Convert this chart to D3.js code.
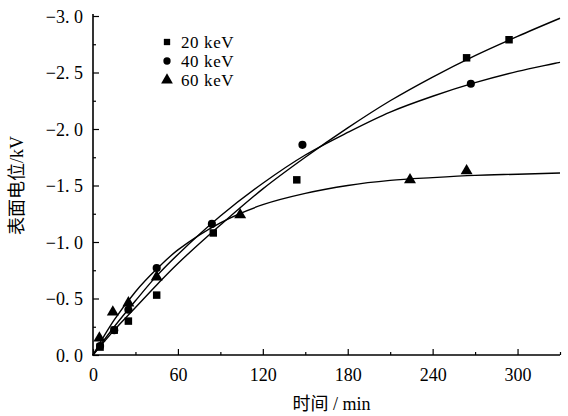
<!DOCTYPE html>
<html>
<head>
<meta charset="utf-8">
<script src="https://cdn.jsdelivr.net/npm/d3@7"></script>
<style>
  body { margin: 0; background: #fff; }
  svg { display: block; }
  text { font-family: "Liberation Serif", "DejaVu Serif", "Noto Sans CJK SC", serif; fill: #000; }
</style>
</head>
<body>
<svg id="chart" width="568" height="416"></svg>
<script>
// ── measured points (time in min, surface potential in kV) ────────────────
const t20 = [5, 15, 25, 45, 85, 144, 264, 294];
const v20 = [-0.07, -0.22, -0.30, -0.53, -1.08, -1.55, -2.63, -2.79];
const t40 = [5, 15, 25, 45, 84, 148, 267];
const v40 = [-0.08, -0.22, -0.40, -0.77, -1.16, -1.86, -2.40];
const t60 = [4.5, 14, 25, 45, 104, 224, 264];
const v60 = [-0.15, -0.38, -0.46, -0.69, -1.24, -1.55, -1.63];

// ── fitted curves ─────────────────────────────────────────────────────────
const fitT   = [0, 15, 30, 45, 60, 90, 120, 150, 180, 210, 240, 270, 300, 330];
const fit20  = [0, -0.22, -0.42, -0.62, -0.81, -1.15, -1.47, -1.75, -2.01, -2.25, -2.46, -2.65, -2.82, -2.98];
const fit40  = [0, -0.25, -0.48, -0.70, -0.89, -1.23, -1.52, -1.77, -1.97, -2.15, -2.29, -2.41, -2.51, -2.59];
const fit60  = [0, -0.31, -0.56, -0.76, -0.93, -1.17, -1.33, -1.43, -1.50, -1.545, -1.57, -1.59, -1.60, -1.61];

const xTicks = [0, 60, 120, 180, 240, 300];
const xMinor = [30, 90, 150, 210, 270, 330];
const yTicks = [0, -0.5, -1.0, -1.5, -2.0, -2.5, -3.0];
const yMinor = [-0.25, -0.75, -1.25, -1.75, -2.25, -2.75];
const legendLabels = ['20 keV', '40 keV', '60 keV'];

const svg = d3.select('#chart');
const m = { l: 93, r: 8, t: 16, b: 61 };
const W = 568, H = 416;

const x = d3.scaleLinear().domain([0, 330]).range([m.l, 560]);
const y = d3.scaleLinear().domain([0, -3.0]).range([H - m.b, m.t]);

// journal style: "−2. 5" with a gap after the point
const fmt = v => (v === 0 ? '0.\u00a00' : '\u2212' + Math.abs(v).toFixed(1).replace('.', '.\u00a0'));

// axes, ticks pointing inward
const gx = svg.append('g').attr('transform', `translate(0,${y(0)})`)
  .call(d3.axisBottom(x).tickValues(xTicks).tickSize(-6).tickPadding(13).tickFormat(d3.format('d')));
svg.append('g').attr('transform', `translate(0,${y(0)})`)
  .call(d3.axisBottom(x).tickValues(xMinor).tickSize(-3).tickFormat(''));
const gy = svg.append('g').attr('transform', `translate(${x(0)},0)`)
  .call(d3.axisLeft(y).tickValues(yTicks).tickSize(-6).tickPadding(10).tickFormat(fmt));
svg.append('g').attr('transform', `translate(${x(0)},0)`)
  .call(d3.axisLeft(y).tickValues(yMinor).tickSize(-3).tickFormat(''));

svg.selectAll('.domain').remove();
svg.append('line').attr('x1', x(0)).attr('x2', x(0)).attr('y1', y(0) + 0.5).attr('y2', y(-3.0) - 2)
  .attr('stroke', '#000').attr('stroke-width', 1.6);
svg.append('line').attr('x1', x(0) - 0.8).attr('x2', x(330)).attr('y1', y(0)).attr('y2', y(0))
  .attr('stroke', '#000').attr('stroke-width', 1.6);
svg.selectAll('.tick line').attr('stroke', '#000').attr('stroke-width', 1.2);
svg.selectAll('.tick text').style('font-size', '18px').attr('fill', '#000');
gy.selectAll('.tick text').attr('dy', '0.34em');

// axis titles
svg.append('text').attr('x', (x(0) + x(330)) / 2 + 5).attr('y', 410)
  .attr('text-anchor', 'middle').style('font-size', '18px').text('时间 / min');
svg.append('text').attr('transform', `translate(23,${y(-1.5)}) rotate(-90)`)
  .attr('text-anchor', 'middle').style('font-size', '18px').text('表面电位/kV');

// fitted curves
const line = d3.line().x(d => x(d[0])).y(d => y(d[1])).curve(d3.curveCatmullRom.alpha(0.5));
[fit20, fit40, fit60].forEach(fv => {
  svg.append('path').datum(fitT.map((t, i) => [t, fv[i]]))
    .attr('fill', 'none').attr('stroke', '#000').attr('stroke-width', 1.4).attr('d', line);
});

// markers
const shapes = [
  d3.symbol().type(d3.symbolSquare).size(56),
  d3.symbol().type(d3.symbolCircle).size(52),
  d3.symbol().type(d3.symbolTriangle).size(62)
];
[[t20, v20], [t40, v40], [t60, v60]].forEach(([ts, vs], k) => {
  svg.append('g').selectAll('path').data(ts.map((t, i) => [t, vs[i]])).join('path')
    .attr('transform', d => `translate(${x(d[0])},${y(d[1])})`)
    .attr('d', shapes[k]).attr('fill', '#000');
});

// legend
const lg = svg.append('g').attr('transform', 'translate(167,42)');
legendLabels.forEach((lab, i) => {
  lg.append('path').attr('transform', `translate(0,${i * 19})`)
    .attr('d', d3.symbol().type([d3.symbolSquare, d3.symbolCircle, d3.symbolTriangle][i]).size([40, 42, 60][i]))
    .attr('fill', '#000');
  lg.append('text').attr('x', 14).attr('y', i * 19 + 6).style('font-size', '17px')
    .attr('letter-spacing', '0.6px').text(lab);
});
</script>
</body>
</html>
